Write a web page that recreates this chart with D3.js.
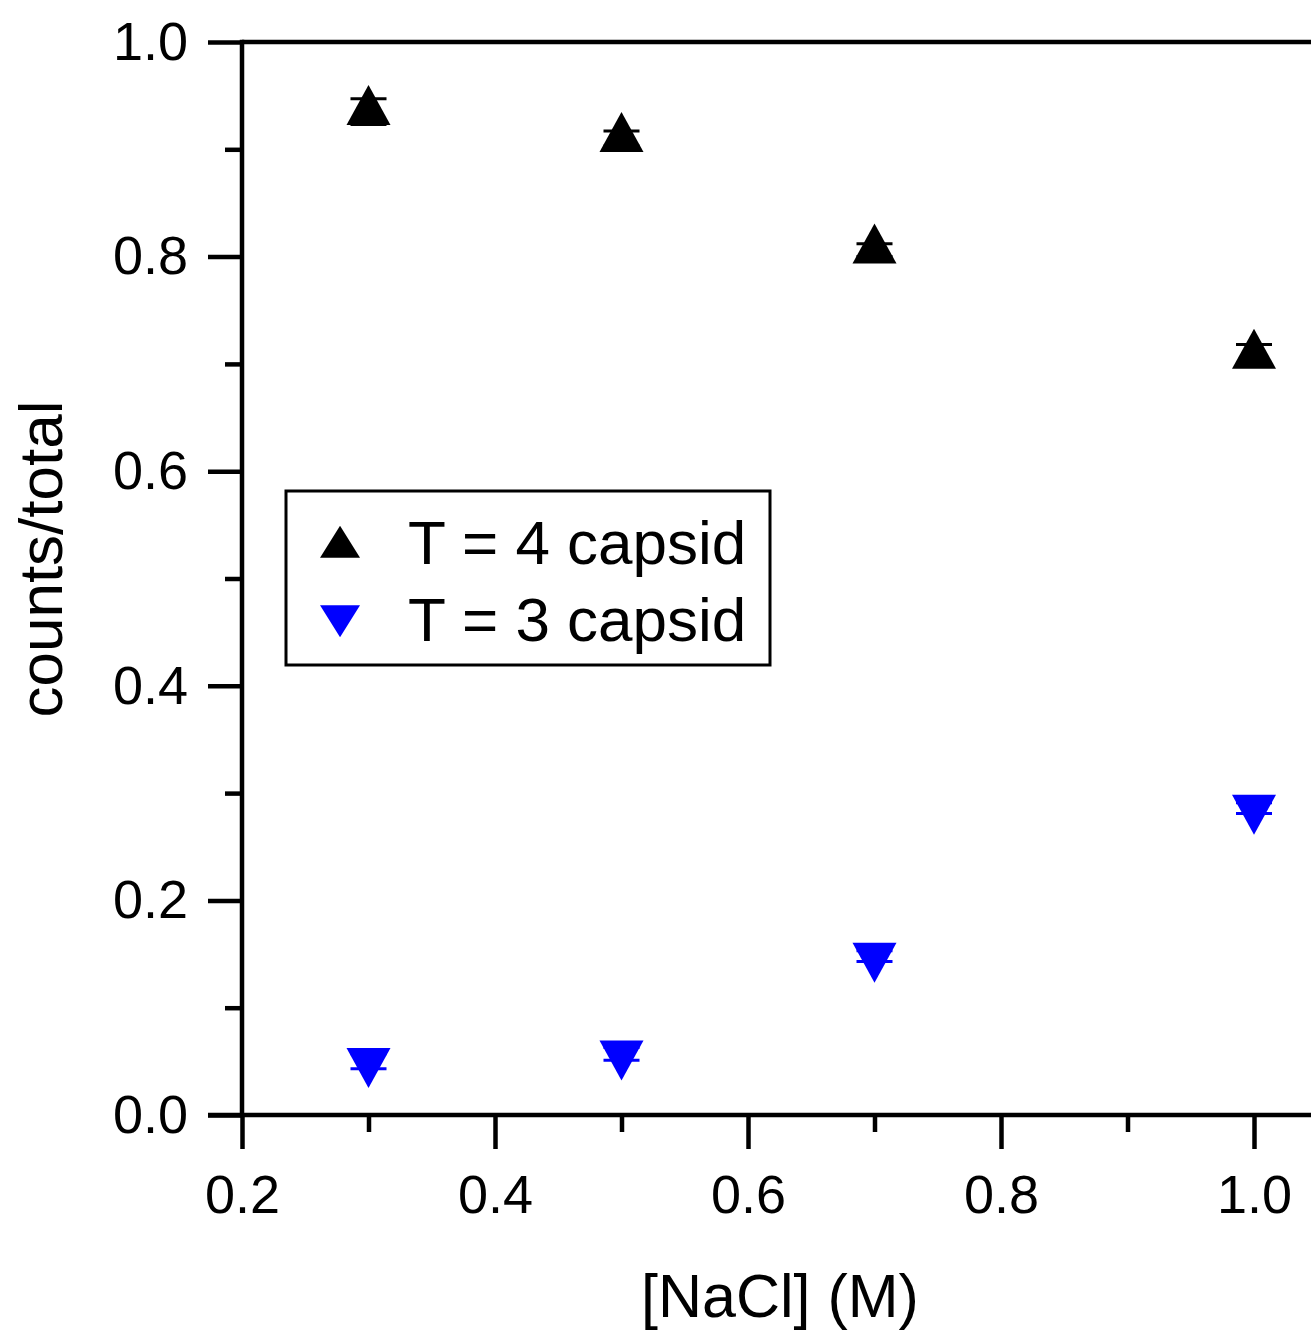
<!DOCTYPE html>
<html>
<head>
<meta charset="utf-8">
<script src="https://cdn.jsdelivr.net/npm/d3@7"></script>
<style>
  html, body { margin: 0; padding: 0; background: #fff; overflow: hidden; }
  svg { display: block; }
  text { font-family: "Liberation Sans", Arial, sans-serif; fill: #000; }
</style>
</head>
<body>
<svg id="chart" width="1311" height="1332"></svg>
<script>
// ---- data ----
const nacl = [0.3, 0.5, 0.7, 1.0];
const t4Values = [0.935, 0.910, 0.806, 0.708];
const t4Errors = [0.012, 0.007, 0.006, 0.010];
const t3Values = [0.050, 0.057, 0.148, 0.286];
const t3Errors = [0.007, 0.006, 0.005, 0.005];
const seriesNames = ["T = 4 capsid", "T = 3 capsid"];
const xTicks = [0.2, 0.4, 0.6, 0.8, 1.0];
const xMinorTicks = [0.3, 0.5, 0.7, 0.9];
const yTicks = [0.0, 0.2, 0.4, 0.6, 0.8, 1.0];
const yMinorTicks = [0.1, 0.3, 0.5, 0.7, 0.9];
const xLabel = "[NaCl] (M)";
const yLabel = "counts/total";

// ---- layout ----
const svg = d3.select("#chart");
const plotLeft = 242, plotTop = 42, plotBottom = 1115;
const x = d3.scaleLinear().domain([0.2, 1.0]).range([plotLeft, 1254]);
const y = d3.scaleLinear().domain([0, 1]).range([plotBottom, plotTop]);
const xRight = x(1.05);

const axisW = 4.5;
const majorLen = 34, minorLen = 17;
const fontFam = '"Liberation Sans", Arial, sans-serif';

// frame top line
svg.append("line")
  .attr("x1", plotLeft).attr("x2", xRight)
  .attr("y1", y(1)).attr("y2", y(1))
  .attr("stroke", "#000").attr("stroke-width", axisW);

// x axis
const gx = svg.append("g").attr("transform", `translate(0,${plotBottom})`);
gx.call(d3.axisBottom(x).tickValues(xTicks).tickSize(majorLen).tickSizeOuter(0)
  .tickFormat(d3.format(".1f")).tickPadding(26));
gx.append("g").call(d3.axisBottom(x).tickValues(xMinorTicks).tickSize(minorLen).tickFormat(""));
gx.selectAll(".domain").remove();
gx.append("line").attr("x1", plotLeft - majorLen).attr("x2", xRight).attr("y1", 0).attr("y2", 0)
  .attr("stroke", "#000").attr("stroke-width", axisW);
gx.selectAll(".tick line").attr("stroke", "#000").attr("stroke-width", axisW);
gx.selectAll(".tick text").attr("font-size", 54).attr("font-family", fontFam);

// y axis
const gy = svg.append("g").attr("transform", `translate(${plotLeft},0)`);
gy.call(d3.axisLeft(y).tickValues(yTicks).tickSize(majorLen).tickSizeOuter(0)
  .tickFormat(d3.format(".1f")).tickPadding(20));
gy.append("g").call(d3.axisLeft(y).tickValues(yMinorTicks).tickSize(minorLen).tickFormat(""));
gy.selectAll(".domain").remove();
gy.append("line").attr("x1", 0).attr("x2", 0).attr("y1", y(1) - axisW/2).attr("y2", plotBottom + axisW/2)
  .attr("stroke", "#000").attr("stroke-width", axisW);
gy.selectAll(".tick line").attr("stroke", "#000").attr("stroke-width", axisW);
gy.selectAll(".tick text").attr("font-size", 54).attr("font-family", fontFam);

// axis labels
svg.append("text").attr("x", 780).attr("y", 1317)
  .attr("text-anchor", "middle").attr("font-size", 61).text(xLabel);
svg.append("text").attr("transform", `translate(62,559) rotate(-90)`)
  .attr("text-anchor", "middle").attr("font-size", 62).text(yLabel);

// triangle path helper: centroid placed at (cx, cy)
function tri(cx, cy, w, h, up) {
  const p = d3.path();
  if (up) {
    const t = cy - 2 * h / 3, b = cy + h / 3;
    p.moveTo(cx, t); p.lineTo(cx + w/2, b); p.lineTo(cx - w/2, b);
  } else {
    const t = cy - h / 3, b = cy + 2 * h / 3;
    p.moveTo(cx, b); p.lineTo(cx + w/2, t); p.lineTo(cx - w/2, t);
  }
  p.closePath();
  return p.toString();
}

const series = [
  { name: seriesNames[0], vals: t4Values, errs: t4Errors, color: "#000000", up: true },
  { name: seriesNames[1], vals: t3Values, errs: t3Errors, color: "#0000ff", up: false }
];

const mW = 44, mH = 40, capW = 36;
series.forEach(s => {
  const g = svg.append("g");
  const pts = nacl.map((d, i) => ({ x: d, v: s.vals[i], e: s.errs[i] }));
  // error bars
  pts.forEach(p => {
    const cx = x(p.x);
    g.append("line").attr("x1", cx).attr("x2", cx).attr("y1", y(p.v + p.e)).attr("y2", y(p.v - p.e))
      .attr("stroke", s.color).attr("stroke-width", 3);
    [p.v + p.e, p.v - p.e].forEach(v => {
      g.append("line").attr("x1", cx - capW/2).attr("x2", cx + capW/2).attr("y1", y(v)).attr("y2", y(v))
        .attr("stroke", s.color).attr("stroke-width", 3);
    });
  });
  g.selectAll("path.m").data(pts).join("path").attr("class", "m")
    .attr("d", p => tri(x(p.x), y(p.v), mW, mH, s.up))
    .attr("fill", s.color);
});

// legend
const lg = svg.append("g");
lg.append("rect").attr("x", 286).attr("y", 491).attr("width", 484).attr("height", 174)
  .attr("fill", "#fff").attr("stroke", "#000").attr("stroke-width", 3);
series.forEach((s, i) => {
  const cy = 542 + i * 77;
  lg.append("path").attr("d", tri(340, cy + (s.up ? 5 : -3), 40, 32, s.up)).attr("fill", s.color);
  lg.append("text").attr("x", 408).attr("y", cy + 22).attr("font-size", 62).text(s.name);
});
</script>
</body>
</html>
